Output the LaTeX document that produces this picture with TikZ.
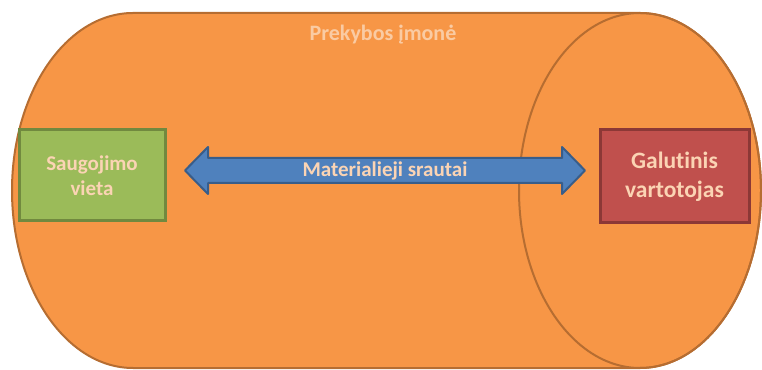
\documentclass[tikz,border=0pt]{standalone}
\usepackage{fontspec}
\setmainfont{Carlito}[Ligatures=NoCommon]
\definecolor{firmfill}{HTML}{F79646}
\definecolor{firmline}{HTML}{B66D31}
\definecolor{storefill}{HTML}{9BBB59}
\definecolor{storeline}{HTML}{71893F}
\definecolor{userfill}{HTML}{C0504D}
\definecolor{userline}{HTML}{8C3836}
\definecolor{flowfill}{HTML}{4F81BD}
\definecolor{flowline}{HTML}{385D8A}
\definecolor{peach}{HTML}{FBD4B4}

\begin{document}
\begin{tikzpicture} [x=1pt, y=1pt,
  box/.style={draw, line width=3pt, align=center, text=peach,
    font=\fontsize{21}{25}\selectfont\bfseries}]
\useasboundingbox (0,0) rectangle (762,369);
\draw[firmline, fill=firmfill, line width=2pt] (640,356) -- (133,356)
  arc[start angle=90, end angle=270, x radius=121, y radius=177.5] -- (640,1)
  arc[start angle=270, end angle=450, x radius=121, y radius=177.5] -- cycle;
\draw[firmline, line width=2pt] (640,178.5) ellipse[x radius=121, y radius=177.5];
\node[text=peach!85!firmfill, font=\fontsize{22}{24}\selectfont\bfseries] (firm) at (383,334) {Prekybos įmonė};
\node[box, fill=storefill, draw=storeline, minimum width=146pt, minimum height=91pt] (store) at (92,193.5) {Saugojimo\\vieta};
\node[box, fill=userfill, draw=userline, minimum width=149pt, minimum height=93pt,
  font=\fontsize{23.5}{29}\selectfont\bfseries] (user) at (674.5,192.5) {Galutinis\\vartotojas};
\draw[flowline, fill=flowfill, line width=2pt, line join=round] (185,198.5) -- (208,222) -- (208,211) -- (562,211)
  -- (562,222) -- (585,198.5) -- (562,175) -- (562,186) -- (208,186) -- (208,175) -- cycle;
\node[text=peach, font=\fontsize{21}{24}\selectfont\bfseries] (stream) at (385,198.5) {Materialieji srautai};
\end{tikzpicture}
\end{document}
